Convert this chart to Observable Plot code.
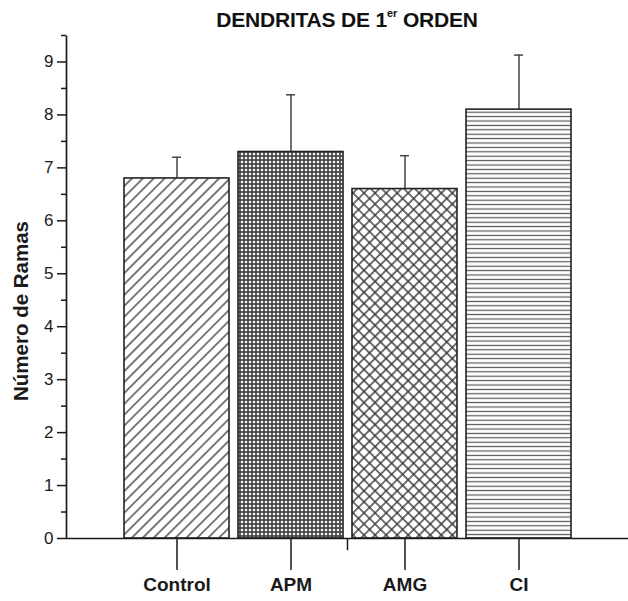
<!DOCTYPE html>
<html>
<head>
<meta charset="utf-8">
<script src="https://cdn.jsdelivr.net/npm/d3@7"></script>
<script src="https://cdn.jsdelivr.net/npm/@observablehq/plot@0.6"></script>
<style>
  body { margin: 0; background: #fff; }
  #wrap { position: relative; width: 628px; height: 601px; font-family: "Liberation Sans", Arial, sans-serif; }
  #wrap svg { position: absolute; left: 0; top: 0; }
  #title { position: absolute; left: 66px; width: 562px; top: 9px; text-align: center; font-size: 21px; font-weight: bold; letter-spacing: -0.2px; color: #111; line-height: 21px; }
  #title sup { font-size: 11px; vertical-align: baseline; position: relative; top: -10px; letter-spacing: 0; }
</style>
</head>
<body>
<div id="wrap"><div id="title">DENDRITAS DE 1<sup>er</sup> ORDEN</div></div>
<script>
// ---- data ----
const categories = ["Control", "APM", "AMG", "CI"];
const means = [6.8, 7.3, 6.6, 8.1];
const errors = [0.4, 1.08, 0.63, 1.03];
const patterns = ["url(#pDiag)", "url(#pCheck)", "url(#pCross)", "url(#pHoriz)"];
const yTicks = [0, 1, 2, 3, 4, 5, 6, 7, 8, 9];
const yMinorTicks = [0.5, 1.5, 2.5, 3.5, 4.5, 5.5, 6.5, 7.5, 8.5, 9.5];
const yLabel = "Número de Ramas";

const data = categories.map((cat, i) => ({cat, mean: means[i], upper: means[i] + errors[i], pattern: patterns[i]}));

const W = 628, H = 601, mL = 66, mR = 0, mT = 35, mB = 63;
const fw = W - mL - mR, fh = H - mT - mB;
const ink = "#1a1a1a";

const svg = Plot.plot({
  width: W, height: H,
  marginLeft: mL, marginRight: mR, marginTop: mT, marginBottom: mB,
  style: {fontFamily: "'Liberation Sans', Arial, sans-serif", color: ink, background: "transparent", overflow: "visible"},
  x: {domain: categories, paddingInner: 0.08, paddingOuter: 0.5, axis: null},
  y: {domain: [0, 9.5], axis: null},
  color: {type: "identity"},
  marks: [
    Plot.ruleX(data, {x: "cat", y1: "mean", y2: "upper", stroke: "#444", strokeWidth: 1.5}),
    Plot.barY(data, {x: "cat", y: "mean", fill: "pattern", stroke: "#222", strokeWidth: 1.6}),
    Plot.tickY(data, {x: "cat", y: "upper", insetLeft: 48, insetRight: 48, stroke: "#444", strokeWidth: 1.5}),
    Plot.frame({stroke: ink, strokeWidth: 1.7, strokeDasharray: `0 ${fw + fh} ${fw + fh}`}),
    Plot.axisY({ticks: yTicks, tickSize: 9, tickPadding: 4, fontSize: 17, strokeWidth: 1.5, label: null, tickFormat: d => String(d)}),
    Plot.axisY({ticks: yMinorTicks, tickSize: 5, strokeWidth: 1.5, label: null, tickFormat: () => ""}),
    Plot.axisX({tickSize: 32, tickPadding: 7, fontSize: 19, fontWeight: "bold", strokeWidth: 1.5, label: null}),
    Plot.ruleX([0], {x: null, y1: 0, y2: -0.23, stroke: ink, strokeWidth: 1.5}),
    Plot.text([yLabel], {frameAnchor: "left", textAnchor: "middle", rotate: -90, dx: -45, dy: 24, fontSize: 20.5, fontWeight: "bold", text: d => d, fill: ink})
  ]
});

// ---- hatch patterns ----
const defs = d3.select(svg).insert("defs", ":first-child");
function pat(id, w, h, transform) {
  const p = defs.append("pattern").attr("id", id).attr("patternUnits", "userSpaceOnUse")
    .attr("width", w).attr("height", h);
  if (transform) p.attr("patternTransform", transform);
  p.append("rect").attr("width", w).attr("height", h).attr("fill", "#fff");
  return p;
}
// Control: "/" diagonal lines
const pd = pat("pDiag", 7.7, 7.7, "rotate(45)");
pd.append("line").attr("x1", 3.85).attr("x2", 3.85).attr("y1", 0).attr("y2", 7.7).attr("stroke", "#333").attr("stroke-width", 1.3);
// APM: dense grey check
const pc = pat("pCheck", 4, 4, null);
pc.select("rect").attr("fill", "#3e3e3e");
pc.append("rect").attr("x", 0.8).attr("y", 0.8).attr("width", 2.4).attr("height", 2.4).attr("fill", "#f4f4f4");
// AMG: diagonal cross-hatch
const px = pat("pCross", 7.8, 7.8, "rotate(45)");
px.append("line").attr("x1", 3.9).attr("x2", 3.9).attr("y1", 0).attr("y2", 7.8).attr("stroke", "#333").attr("stroke-width", 1.4);
px.append("line").attr("y1", 3.9).attr("y2", 3.9).attr("x1", 0).attr("x2", 7.8).attr("stroke", "#333").attr("stroke-width", 1.4);
// CI: horizontal lines
const ph = pat("pHoriz", 8, 4.4, null);
ph.append("line").attr("x1", 0).attr("x2", 8).attr("y1", 2.2).attr("y2", 2.2).attr("stroke", "#555").attr("stroke-width", 1.2);

const wrap = document.getElementById("wrap");
wrap.insertBefore(svg, wrap.firstChild);
</script>
</body>
</html>
